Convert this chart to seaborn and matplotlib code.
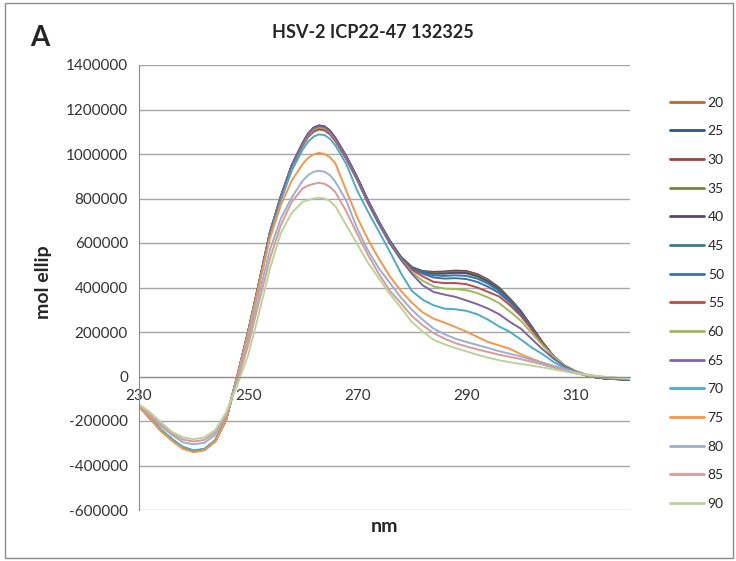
import numpy as np
import pandas as pd
import seaborn as sns
import matplotlib.pyplot as plt
from matplotlib.patches import Rectangle
from matplotlib.ticker import FuncFormatter

# wavelength grid (nm), denser around the main peak
nm = [230, 232, 234, 236, 238, 240, 242, 244, 246, 248, 250, 252, 254, 256, 258, 260,
      261, 262, 263, 264, 265, 266,
      268, 270, 272, 274, 276, 278, 280, 282, 284, 286, 288, 290, 292, 294, 296, 298,
      300, 302, 304, 306, 308, 310, 312, 314, 316, 318, 320]

# mol ellip values in thousands, one list per temperature
t20 = [-133, -185, -240, -282, -318, -335, -328, -288, -190, 0, 200, 420, 645, 805, 945, 1045,
       1085, 1110, 1120, 1116, 1098, 1066,
       985, 890, 785, 690, 605, 535, 488, 470, 466, 468, 472, 470, 455, 430, 395, 345,
       290, 220, 150, 88, 46, 22, 5, -5, -10, -12, -15]
t25 = [-135, -188, -243, -285, -321, -337, -330, -290, -192, -2, 198, 420, 648, 810, 950, 1050,
       1092, 1118, 1128, 1124, 1105, 1072,
       990, 895, 790, 695, 610, 538, 492, 474, 470, 472, 476, 474, 460, 435, 400, 350,
       294, 224, 153, 90, 47, 22, 5, -5, -10, -13, -16]
t30 = [-134, -186, -241, -283, -319, -336, -329, -289, -191, -1, 199, 421, 646, 807, 947, 1047,
       1088, 1113, 1122, 1118, 1100, 1068,
       987, 892, 787, 692, 607, 537, 490, 472, 468, 470, 474, 472, 458, 433, 398, 348,
       292, 222, 152, 90, 47, 22, 5, -5, -10, -12, -15]
t35 = [-134, -186, -241, -283, -319, -336, -329, -289, -190, 0, 200, 422, 647, 808, 948, 1048,
       1090, 1115, 1125, 1121, 1102, 1070,
       988, 893, 788, 693, 607, 537, 490, 470, 465, 466, 470, 468, 454, 430, 395, 346,
       290, 222, 152, 89, 47, 22, 5, -5, -10, -12, -15]
t40 = [-135, -187, -242, -284, -320, -337, -330, -290, -192, -1, 199, 421, 647, 810, 950, 1050,
       1092, 1118, 1128, 1124, 1105, 1072,
       990, 895, 790, 694, 607, 536, 488, 468, 462, 462, 466, 464, 450, 426, 392, 343,
       288, 220, 150, 88, 46, 22, 5, -5, -10, -12, -15]
t45 = [-133, -185, -240, -282, -318, -334, -327, -287, -189, 0, 200, 420, 644, 804, 943, 1042,
       1082, 1108, 1118, 1114, 1096, 1064,
       982, 887, 782, 688, 602, 532, 486, 466, 455, 452, 455, 452, 440, 417, 385, 338,
       284, 218, 150, 88, 47, 22, 5, -5, -10, -12, -15]
t50 = [-133, -185, -240, -282, -318, -334, -327, -287, -189, 0, 199, 419, 643, 802, 940, 1040,
       1080, 1105, 1115, 1111, 1093, 1061,
       980, 885, 780, 686, 600, 530, 485, 462, 445, 440, 442, 438, 425, 403, 375, 332,
       280, 215, 150, 90, 48, 23, 6, -4, -9, -11, -14]
t55 = [-134, -186, -241, -283, -319, -335, -328, -288, -190, 0, 198, 418, 642, 800, 938, 1037,
       1076, 1100, 1110, 1106, 1088, 1057,
       976, 882, 778, 684, 598, 528, 480, 450, 425, 420, 420, 415, 400, 380, 360, 320,
       272, 210, 148, 92, 50, 24, 8, -2, -8, -10, -12]
t60 = [-134, -186, -241, -283, -319, -335, -328, -288, -190, 0, 199, 420, 645, 805, 944, 1044,
       1085, 1110, 1120, 1116, 1098, 1066,
       984, 888, 783, 688, 600, 528, 470, 430, 405, 395, 393, 388, 375, 355, 330, 292,
       250, 195, 140, 90, 50, 24, 8, -2, -8, -10, -12]
t65 = [-135, -187, -242, -284, -320, -336, -329, -289, -191, -1, 198, 420, 646, 808, 948, 1048,
       1090, 1115, 1125, 1121, 1102, 1070,
       986, 888, 782, 686, 598, 525, 462, 410, 380, 368, 358, 342, 325, 305, 280, 245,
       215, 168, 122, 80, 46, 22, 7, -2, -7, -10, -12]
t70 = [-132, -183, -238, -280, -316, -332, -325, -286, -188, 0, 195, 412, 632, 790, 925, 1020,
       1055, 1078, 1088, 1085, 1068, 1038,
       955, 835, 740, 650, 560, 465, 385, 345, 320, 305, 302, 295, 280, 255, 225, 200,
       166, 130, 100, 65, 38, 18, 6, -2, -6, -8, -10]
t75 = [-136, -188, -244, -288, -325, -340, -332, -292, -192, -2, 192, 410, 620, 770, 880, 955,
       982, 998, 1005, 1000, 985, 958,
       835, 715, 615, 528, 450, 385, 332, 288, 260, 242, 222, 202, 178, 155, 140, 124,
       100, 80, 62, 44, 27, 14, 5, -2, -6, -8, -10]
t80 = [-130, -175, -222, -262, -295, -305, -298, -262, -172, -15, 165, 370, 570, 710, 805, 880,
       905, 920, 925, 920, 905, 875,
       790, 665, 565, 485, 420, 355, 300, 255, 215, 190, 170, 155, 142, 128, 114, 102,
       90, 75, 62, 48, 34, 20, 9, 1, -4, -7, -10]
t85 = [-128, -170, -215, -256, -283, -292, -285, -250, -165, -25, 140, 335, 530, 680, 785, 845,
       858, 866, 870, 866, 852, 828,
       742, 640, 545, 460, 385, 330, 272, 230, 195, 170, 150, 135, 122, 110, 98, 88,
       78, 66, 54, 40, 27, 15, 6, 0, -4, -7, -10]
t90 = [-125, -160, -205, -248, -273, -282, -274, -240, -160, -40, 95, 285, 485, 645, 735, 785,
       793, 800, 803, 800, 788, 765,
       680, 595, 510, 440, 370, 310, 245, 202, 165, 145, 128, 113, 98, 85, 73, 64,
       56, 49, 41, 32, 23, 15, 8, 2, -3, -6, -8]

temps = ["20", "25", "30", "35", "40", "45", "50", "55", "60", "65", "70", "75", "80", "85", "90"]
series = [t20, t25, t30, t35, t40, t45, t50, t55, t60, t65, t70, t75, t80, t85, t90]
colors = ["#C0652B", "#2F5382", "#A23F3C", "#6E8B3A", "#5B4679", "#2F7F93", "#3E6FB0",
          "#BE4B48", "#9BBB59", "#8064A2", "#4BACC6", "#F79646", "#9AAED6", "#D99A98", "#B9D596"]

rows = []
for t, vals in zip(temps, series):
    for w, v in zip(nm, vals):
        rows.append({"nm": w, "ellip": v * 1000, "temp": t})
df = pd.DataFrame(rows)

sns.set_style("white")
plt.rcParams['font.family'] = ['Lato', 'DejaVu Sans']

fig = plt.figure(figsize=(7.36, 5.61), dpi=100)
ax = fig.add_axes([139 / 736, 1 - 510 / 561, 491 / 736, 445 / 561])

sns.lineplot(data=df, x="nm", y="ellip", hue="temp", hue_order=temps, palette=colors,
             estimator=None, linewidth=1.4, ax=ax)

ax.set_xlim(230, 320)
ax.set_ylim(-600000, 1400000)
ax.set_yticks(np.arange(-600000, 1400001, 200000))
ax.set_xticks([230, 250, 270, 290, 310])
ax.yaxis.set_major_formatter(FuncFormatter(lambda v, p: f"{int(v)}"))
ax.set_xlabel("")
ax.set_ylabel("")

# excel style axes: horizontal gridlines, x axis crossing at zero
ax.grid(axis="y", color="#a6a6a6", linewidth=1.0)
ax.set_axisbelow(True)
for s in ["top", "right"]:
    ax.spines[s].set_visible(False)
ax.spines["bottom"].set_position(("data", 0))
ax.spines["bottom"].set_color("#8c8c8c")
ax.spines["left"].set_color("#8c8c8c")
ax.tick_params(axis="both", direction="out", length=5, color="#8c8c8c",
               labelsize=11, labelcolor="#333333")
ax.tick_params(axis="x", pad=4)
ax.tick_params(axis="y", pad=3)

leg = ax.legend(loc="upper left", bbox_to_anchor=(664 / 736, 1 - 91 / 561),
                bbox_transform=fig.transFigure, frameon=False, fontsize=10,
                handlelength=2.5, handletextpad=0.25, labelspacing=1.2, borderaxespad=0)
for line in leg.get_lines():
    line.set_linewidth(2.0)

fig.text(40 / 736, 1 - 38 / 561, "A", fontsize=20, fontweight="bold", ha="center", va="center")
fig.text(373 / 736, 1 - 33 / 561, "HSV-2 ICP22-47 132325", fontsize=13, fontweight="bold",
         ha="center", va="center")
fig.text(43 / 736, 1 - 282 / 561, "mol ellip", fontsize=14, fontweight="bold", rotation=90,
         ha="center", va="center")
fig.text(384 / 736, 1 - 527 / 561, "nm", fontsize=14, fontweight="bold", ha="center", va="center")

# thin border around the whole chart area
fig.patches.append(Rectangle((5 / 736, 1 - 558 / 561), 728 / 736, 555 / 561,
                             transform=fig.transFigure, fill=False, edgecolor="#8c8c8c", lw=1))

fig.savefig("out.png", dpi=100)
